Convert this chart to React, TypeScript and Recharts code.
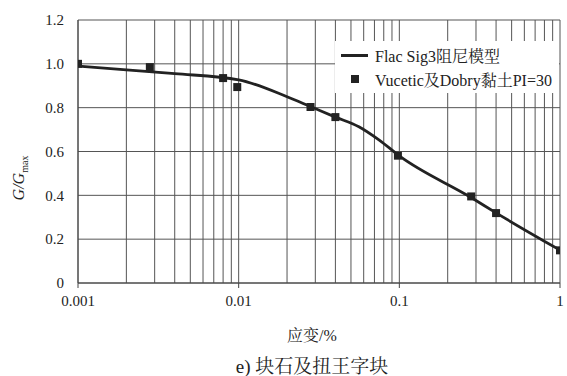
import React from "react"
import { ComposedChart, Line, Scatter, XAxis, YAxis, CartesianGrid, Legend, Label } from "recharts"

const FONT = "Liberation Serif, Noto Serif CJK SC, serif"

// strain (%) and G/Gmax for the fitted curve
const curveStrain = [0.001, 0.002, 0.004, 0.01, 0.02, 0.028, 0.04, 0.056, 0.075, 0.1, 0.28, 0.4, 1]
const curveRatio = [0.99, 0.972, 0.955, 0.927, 0.85, 0.805, 0.757, 0.713, 0.652, 0.58, 0.39, 0.32, 0.15]

// Vucetic & Dobry test points
const testStrain = [0.001, 0.0028, 0.008, 0.0098, 0.028, 0.04, 0.098, 0.28, 0.4, 1]
const testRatio = [1.0, 0.985, 0.935, 0.894, 0.803, 0.757, 0.581, 0.395, 0.319, 0.149]

const xTicks = [
  0.001, 0.002, 0.003, 0.004, 0.005, 0.006, 0.007, 0.008, 0.009,
  0.01, 0.02, 0.03, 0.04, 0.05, 0.06, 0.07, 0.08, 0.09,
  0.1, 0.2, 0.3, 0.4, 0.5, 0.6, 0.7, 0.8, 0.9, 1,
]
const xMajor = ["0.001", "0.01", "0.1", "1"]
const yTicks = [0, 0.2, 0.4, 0.6, 0.8, 1.0, 1.2]

const curveData = curveStrain.map((x, i) => ({ x, y: curveRatio[i] }))
const testData = testStrain.map((x, i) => ({ x, y: testRatio[i] }))

const XTick = (props: any) => {
  const { x, y, payload } = props
  const label = String(payload.value)
  if (!xMajor.includes(label)) return <g />
  return (
    <g>
      <line x1={x} x2={x} y1={y} y2={y + 5} stroke="#444" />
      <text x={x} y={y + 23} textAnchor="middle" fontSize={15} fill="#222" style={{ fontFamily: FONT }}>
        {label}
      </text>
    </g>
  )
}

const LegendBox = () => (
  <div style={{ background: "#fff", fontFamily: FONT, fontSize: 16, color: "#222", padding: "2px 0 2px 6px" }}>
    <div style={{ display: "flex", alignItems: "center", height: 24 }}>
      <span style={{ display: "inline-block", width: 27, height: 3, background: "#222", marginRight: 7 }} />
      Flac Sig3阻尼模型
    </div>
    <div style={{ display: "flex", alignItems: "center", height: 24 }}>
      <span style={{ display: "inline-block", width: 8, height: 8, background: "#222", margin: "0 16px 0 10px" }} />
      Vucetic及Dobry黏土PI=30
    </div>
  </div>
)

export default function App() {
  return (
    <div
      style={{
        position: "absolute",
        left: 0,
        top: 0,
        width: 567,
        height: 376,
        background: "#fff",
        fontFamily: FONT,
      }}
    >
      <ComposedChart
        width={567}
        height={376}
        margin={{ top: 20, right: 7, left: 0, bottom: 0 }}
        style={{ fontFamily: FONT }}
      >
        <CartesianGrid stroke="#555" strokeWidth={1} />
        <XAxis
          dataKey="x"
          type="number"
          scale="log"
          domain={[0.001, 1]}
          allowDataOverflow
          ticks={xTicks}
          interval={0}
          height={93}
          tickSize={0}
          tickMargin={0}
          tickLine={false}
          tick={<XTick />}
          axisLine={{ stroke: "#444" }}
        >
          <Label
            content={(p: any) => {
              const vb = p.viewBox
              return (
                <text x={312} y={vb.y + 58} textAnchor="middle" fontSize={16} fill="#222" style={{ fontFamily: FONT }}>
                  应变/%
                </text>
              )
            }}
          />
        </XAxis>
        <YAxis
          dataKey="y"
          type="number"
          domain={[0, 1.2]}
          ticks={yTicks}
          width={78}
          tickSize={0}
          tickMargin={14}
          tickLine={false}
          axisLine={{ stroke: "#444" }}
          tick={{ fontSize: 15, fill: "#222", style: { fontFamily: FONT } }}
          tickFormatter={(v: number) => (v === 0 ? "0" : v.toFixed(1))}
        >
          <Label
            content={() => (
              <text transform="translate(24,178) rotate(-90)" textAnchor="middle" fill="#222" style={{ fontFamily: FONT }}>
                <tspan fontSize={16} fontStyle="italic">G/G</tspan>
                <tspan fontSize={10} dy={4}>max</tspan>
              </text>
            )}
          />
        </YAxis>
        <Legend
          layout="horizontal"
          verticalAlign="middle"
          align="center"
          content={<LegendBox />}
          wrapperStyle={{ left: 335, top: 41, width: 224 }}
        />
        <Line
          data={curveData}
          dataKey="y"
          type="monotone"
          stroke="#222"
          strokeWidth={2.8}
          dot={false}
          isAnimationActive={false}
        />
        <Scatter data={testData} dataKey="y" shape="square" fill="#222" isAnimationActive={false} />
      </ComposedChart>
      <div
        style={{
          position: "absolute",
          left: 0,
          width: 624,
          top: 357,
          lineHeight: "19px",
          textAlign: "center",
          fontSize: 19,
          color: "#222",
        }}
      >
        e) 块石及扭王字块
      </div>
    </div>
  )
}
